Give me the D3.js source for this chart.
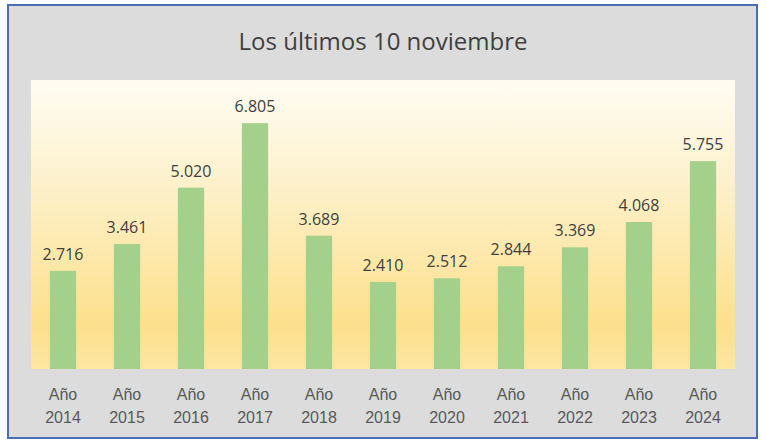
<!DOCTYPE html>
<html>
<head>
<meta charset="utf-8">
<script src="https://cdn.jsdelivr.net/npm/d3@7"></script>
<style>
  html, body { margin: 0; padding: 0; background: #fff; }
  svg { display: block; font-family: "Open Sans", sans-serif; }
</style>
</head>
<body>
<svg></svg>
<script>
const categories = ["Año 2014", "Año 2015", "Año 2016", "Año 2017", "Año 2018", "Año 2019",
    "Año 2020", "Año 2021", "Año 2022", "Año 2023", "Año 2024"];
const values = [2716, 3461, 5020, 6805, 3689, 2410, 2512, 2844, 3369, 4068, 5755];
const yDomain = [0, 8000];
const title = "Los últimos 10 noviembre";

const svg = d3.select("svg")
    .attr("width", 766)
    .attr("height", 445);

const plot = { left: 31, right: 735, top: 80, bottom: 369 };

// frame
svg.append("rect")
    .attr("x", 8).attr("y", 5)
    .attr("width", 749).attr("height", 433)
    .attr("fill", "#dcdcdc")
    .attr("stroke", "#4a6db3")
    .attr("stroke-width", 2);

svg.append("text")
    .attr("x", 383).attr("y", 50)
    .attr("text-anchor", "middle")
    .attr("font-size", 24)
    .attr("fill", "#404040")
    .text(title);

const defs = svg.append("defs");
const grad = defs.append("linearGradient")
    .attr("id", "bg")
    .attr("x1", 0).attr("y1", 0).attr("x2", 0).attr("y2", 1);
grad.append("stop").attr("offset", "0%").attr("stop-color", "#fffcf3");
grad.append("stop").attr("offset", "35%").attr("stop-color", "#fdf1cc");
grad.append("stop").attr("offset", "85%").attr("stop-color", "#fde08c");
grad.append("stop").attr("offset", "100%").attr("stop-color", "#fee6a2");

svg.append("rect")
    .attr("x", plot.left).attr("y", plot.top)
    .attr("width", plot.right - plot.left).attr("height", plot.bottom - plot.top)
    .attr("fill", "url(#bg)");

const x = d3.scaleBand()
    .domain(categories)
    .range([plot.left, plot.right])
    .paddingInner(0.59)
    .paddingOuter(0.295);

const y = d3.scaleLinear()
    .domain(yDomain)
    .range([plot.bottom, plot.top]);

const fmt = d3.formatLocale({ decimal: ",", thousands: ".", grouping: [3], currency: ["", "€"] }).format(",");

const data = categories.map((c, i) => ({ label: c, value: values[i] }));

svg.selectAll(".bar")
    .data(data)
    .enter()
    .append("rect")
    .attr("class", "bar")
    .attr("x", d => x(d.label))
    .attr("y", d => y(d.value))
    .attr("width", x.bandwidth())
    .attr("height", d => y(0) - y(d.value))
    .attr("fill", "#a3d08b");

svg.selectAll(".val")
    .data(data)
    .enter()
    .append("text")
    .attr("class", "val")
    .attr("x", d => x(d.label) + x.bandwidth() / 2)
    .attr("y", d => y(d.value) - 11)
    .attr("text-anchor", "middle")
    .attr("font-size", 16)
    .attr("fill", "#404040")
    .text(d => fmt(d.value));

const xAxis = svg.append("g")
    .attr("transform", `translate(0,${plot.bottom})`)
    .call(d3.axisBottom(x).tickSize(0).tickFormat(""));
xAxis.select(".domain").remove();

xAxis.selectAll(".tick").each(function(d) {
    const parts = d.split(" ");
    const t = d3.select(this).append("text")
        .attr("text-anchor", "middle")
        .attr("font-size", 16)
        .attr("fill", "#595959");
    t.append("tspan").attr("x", 0).attr("y", 31).text(parts[0]);
    t.append("tspan").attr("x", 0).attr("y", 54).text(parts[1]);
});
</script>
</body>
</html>
